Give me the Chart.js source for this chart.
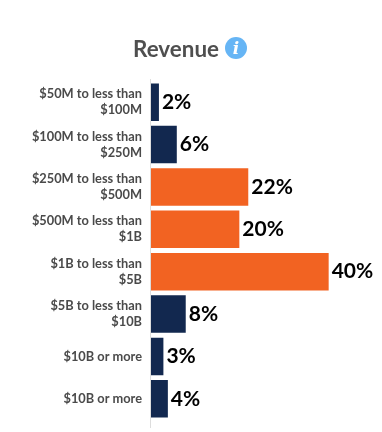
<!DOCTYPE html>
<html>
<head>
<meta charset="utf-8">
<style>
  html, body { margin: 0; padding: 0; background: #fff; }
  #wrap { position: relative; width: 382px; height: 432px; overflow: hidden; }
  #title { position: absolute; left: 0; top: 35px; width: 380px; text-align: center; font: bold 22.4px Lato, sans-serif; color: #4f4f4f; line-height: 28px; }
  #info { display: inline-block; width: 22px; height: 22px; border-radius: 50%; background: #66b5f5; color: #fff; font: italic bold 17px "DejaVu Serif", serif; line-height: 22px; text-align: center; margin-left: 6px; vertical-align: 3px; }
  canvas { position: absolute; left: 0; top: 0; }
</style>
</head>
<body>
<div id="wrap">
  <canvas id="chart" width="382" height="432"></canvas>
  <div id="title">Revenue<span id="info">i</span></div>
</div>
<script src="https://cdn.jsdelivr.net/npm/chart.js@4"></script>
<script>
const categories = [
    ['$50M to less than', '$100M'],
    ['$100M to less than', '$250M'],
    ['$250M to less than', '$500M'],
    ['$500M to less than', '$1B'],
    ['$1B to less than', '$5B'],
    ['$5B to less than', '$10B'],
    '$10B or more',
    '$10B or more'
];
const revenueShare = [2, 6, 22, 20, 40, 8, 3, 4];
const barColors = ['#12284f', '#12284f', '#f26322', '#f26322', '#f26322', '#12284f', '#12284f', '#12284f'];

// draws the percent text just past the end of each bar
const valueLabels = {
    id: 'valueLabels',
    afterDatasetsDraw(chart) {
        const ctx = chart.ctx;
        ctx.save();
        ctx.font = 'bold 21px Lato, sans-serif';
        ctx.fillStyle = '#000000';
        ctx.textAlign = 'left';
        ctx.textBaseline = 'middle';
        chart.getDatasetMeta(0).data.forEach((bar, i) => {
            ctx.fillText(revenueShare[i] + '%', bar.x + 2, bar.y);
        });
        ctx.restore();
    }
};

// the axis line runs a little past the first and last bars
const axisLine = {
    id: 'axisLine',
    beforeDatasetsDraw(chart) {
        const ctx = chart.ctx;
        const area = chart.chartArea;
        ctx.save();
        ctx.strokeStyle = '#dddddd';
        ctx.lineWidth = 1;
        ctx.beginPath();
        ctx.moveTo(area.left - 0.5, area.top - 2);
        ctx.lineTo(area.left - 0.5, area.bottom + 8);
        ctx.stroke();
        ctx.restore();
    }
};

new Chart(document.getElementById('chart').getContext('2d'), {
    type: 'bar',
    data: {
        labels: categories,
        datasets: [{
            data: revenueShare,
            backgroundColor: barColors,
            borderColor: 'rgba(255, 255, 255, 0.25)',
            borderWidth: 1,
            barPercentage: 0.93,
            categoryPercentage: 1
        }]
    },
    options: {
        indexAxis: 'y',
        responsive: false,
        animation: false,
        layout: { padding: { top: 81, bottom: 12, right: 30, left: 0 } },
        plugins: {
            legend: { display: false },
            tooltip: { enabled: false }
        },
        scales: {
            x: { display: false, min: 0, max: 45 },
            y: {
                afterFit(axis) {
                    axis.width = 151;
                    axis.paddingTop = 0;
                    axis.paddingBottom = 0;
                },
                grid: { display: false, drawTicks: false },
                border: { display: false },
                ticks: {
                    color: '#4a4a4a',
                    padding: 9,
                    autoSkip: false,
                    font: { family: 'Lato', size: 12.8, weight: 'bold', lineHeight: 1.25 }
                }
            }
        }
    },
    plugins: [axisLine, valueLabels]
});
</script>
</body>
</html>
